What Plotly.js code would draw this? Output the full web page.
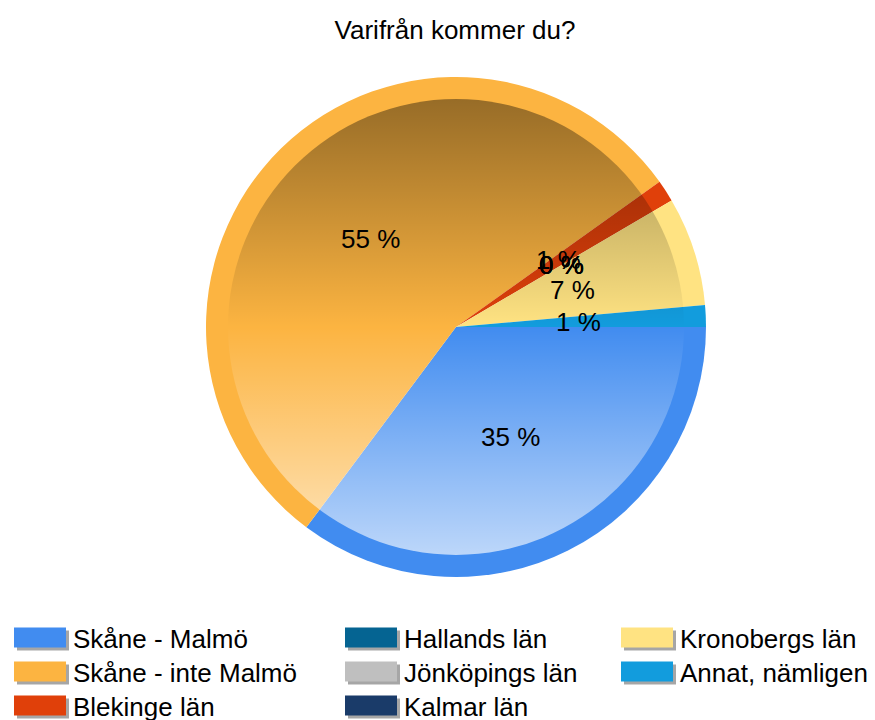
<!DOCTYPE html>
<html><head><meta charset="utf-8">
<script src="https://cdn.plot.ly/plotly-3.0.1.min.js"></script>
<style>body{margin:0;background:#fff}#chart{width:875px;height:720px}</style>
</head><body><div id="chart"></div>
<script>
// ---- data ----
const categories = ["Skåne - Malmö", "Skåne - inte Malmö", "Blekinge län", "Hallands län", "Jönköpings län", "Kalmar län", "Kronobergs län", "Annat, nämligen"];
const counts = [25, 39, 1, 0, 0, 0, 5, 1];
const colors = ["#418CF0", "#FCB441", "#E0400A", "#056492", "#BFBFBF", "#1A3B69", "#FFE382", "#129CDD"];
const legendColumns = [[0, 1, 2], [3, 4, 5], [6, 7]];
const titleText = "Varifrån kommer du?";

// ---- layout geometry ----
const W = 875, H = 720;
const CX = 456, CY = 327, R = 250, RIN = 228;
const FONT = "Liberation Sans, Arial, sans-serif";

const mainPie = {
  type: "pie",
  labels: categories,
  values: counts,
  marker: {colors: colors, line: {width: 0}},
  sort: false,
  direction: "clockwise",
  rotation: 90,
  textinfo: "none",
  showlegend: false,
  legend: "legend4",
  domain: {x: [(CX - R) / W, (CX + R) / W], y: [1 - (CY + R) / H, 1 - (CY - R) / H]},
  hovertemplate: "%{label}: %{value} (%{percent})<extra></extra>"
};

// legend-only helper pies (labels only, drawn at zero size), one per legend column
const legendNames = ["legend", "legend2", "legend3"];
const legendTraces = legendColumns.map((idx, k) => ({
  type: "pie",
  labels: idx.map(i => categories[i]),
  marker: {colors: idx.map(i => colors[i])},
  sort: false,
  textinfo: "none",
  hoverinfo: "skip",
  legend: legendNames[k],
  domain: {x: [0, 0.0001], y: [0, 0.0001]}
}));

// percentage labels at half radius of each slice's middle angle
const total = counts.reduce((a, b) => a + b, 0);
let cum = 0;
const annotations = counts.map((v) => {
  const frac = v / total;
  const mid = (cum + frac / 2) * 2 * Math.PI;
  cum += frac;
  const rl = 0.49 * R;
  const px = CX + rl * Math.cos(mid), py = CY + rl * Math.sin(mid);
  return {
    xref: "paper", yref: "paper", x: px / W, y: 1 - py / H,
    xanchor: "center", yanchor: "middle", showarrow: false,
    text: Math.round(frac * 100) + " %",
    font: {family: FONT, size: 26, color: "#000"}
  };
});

const gradSvg = '<svg xmlns="http://www.w3.org/2000/svg" width="100" height="100" viewBox="0 0 100 100" preserveAspectRatio="none">' +
  '<defs><linearGradient id="g" x1="0" y1="0" x2="0" y2="1">' +
  '<stop offset="0" stop-color="#000" stop-opacity="0.4"/>' +
  '<stop offset="0.5" stop-color="#000" stop-opacity="0"/>' +
  '<stop offset="0.5" stop-color="#fff" stop-opacity="0"/>' +
  '<stop offset="1" stop-color="#fff" stop-opacity="0.65"/>' +
  '</linearGradient></defs><circle cx="50" cy="50" r="50" fill="url(#g)"/></svg>';

const legendBase = {
  font: {family: FONT, size: 26, color: "#000"},
  bgcolor: "rgba(0,0,0,0)",
  itemwidth: 56,
  yanchor: "top",
  xanchor: "left",
  y: 1 - 614 / H,
  itemclick: false, itemdoubleclick: false
};

const layout = {
  width: W, height: H,
  margin: {l: 0, r: 0, t: 0, b: 0, autoexpand: false},
  paper_bgcolor: "#fff",
  title: {text: titleText, x: 455 / W, xanchor: "center", y: 1 - 30 / H, yanchor: "middle",
    font: {family: FONT, size: 26, color: "#000"}},
  annotations: annotations,
  images: [{
    source: "data:image/svg+xml;charset=utf-8," + encodeURIComponent(gradSvg),
    xref: "paper", yref: "paper",
    x: (CX - RIN) / W, y: 1 - (CY - RIN) / H,
    sizex: 2 * RIN / W, sizey: 2 * RIN / H,
    xanchor: "left", yanchor: "top", sizing: "stretch", layer: "above"
  }],
  legend: Object.assign({}, legendBase, {x: 7 / W}),
  legend2: Object.assign({}, legendBase, {x: 338 / W}),
  legend3: Object.assign({}, legendBase, {x: 614 / W}),
  legend4: {visible: false}
};

function styleLegend() {
  // wider swatches with a soft drop shadow
  document.querySelectorAll("path.legendpie").forEach(p => {
    if (p.dataset.done) return;
    p.dataset.done = "1";
    p.setAttribute("d", "M26,10H-26V-10H26Z");
    const sh = p.cloneNode();
    sh.setAttribute("d", "M29,13H-23V-7H29Z");
    sh.style.fill = "rgba(0,0,0,0.35)";
    sh.style.stroke = "none";
    sh.dataset.done = "1";
    sh.classList.remove("legendpie");
    p.parentNode.insertBefore(sh, p);
  });
  // tighter row spacing (34 px) within each legend
  const boxes = new Set();
  document.querySelectorAll("g.traces").forEach(t => boxes.add(t.closest("g.scrollbox")));
  boxes.forEach(box => {
    if (!box) return;
    const items = Array.from(box.querySelectorAll("g.traces"));
    let y0 = null;
    items.forEach((t, i) => {
      const m = /translate\(\s*([-\d.e]+)[ ,]+([-\d.e]+)\s*\)/.exec(t.getAttribute("transform") || "");
      if (!m) return;
      if (y0 === null) y0 = parseFloat(m[2]);
      t.setAttribute("transform", "translate(" + m[1] + "," + (y0 + i * 34) + ")");
    });
  });
}

Plotly.newPlot("chart", [mainPie].concat(legendTraces), layout, {displayModeBar: false}).then(styleLegend);
</script>
</body></html>
